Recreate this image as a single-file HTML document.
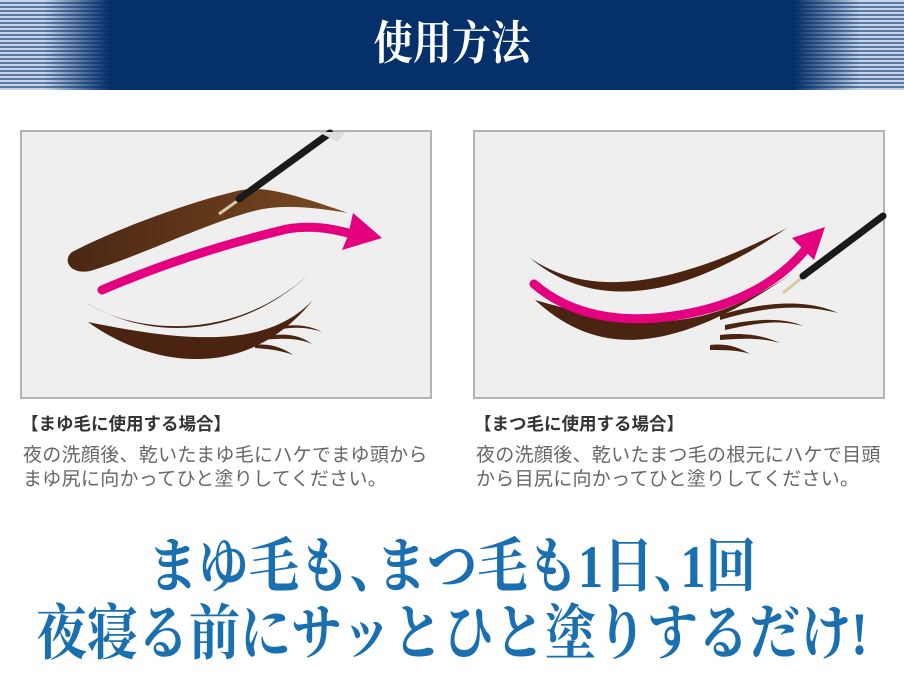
<!DOCTYPE html>
<html><head><meta charset="utf-8">
<style>
*{margin:0;padding:0;box-sizing:border-box}
body{width:904px;height:679px;background:#fff;position:relative;overflow:hidden;font-family:"Liberation Sans","Noto Sans CJK JP",sans-serif}
.hdr{position:absolute;left:0;top:0;width:904px;height:90px;background:#05306a}
.side{position:absolute;top:0;height:90px;width:110px;background:repeating-linear-gradient(180deg,#c9d5e6 0 2px,#5a7aa6 2px 4px)}
.side.l{left:0;-webkit-mask-image:linear-gradient(90deg,#000 40%,transparent);mask-image:linear-gradient(90deg,#000 40%,transparent)}
.side.r{right:0;-webkit-mask-image:linear-gradient(270deg,#000 40%,transparent);mask-image:linear-gradient(270deg,#000 40%,transparent)}
.title{position:absolute;left:0;width:904px;top:16px;text-align:center;color:#fff;font-family:"Liberation Serif","Noto Serif CJK SC",serif;font-weight:bold;font-size:46px;line-height:56px;transform:scaleX(0.85)}
.panel{position:absolute;top:130px;width:412px;height:269px;border:2px solid #b3b3b3;background:#efefef}
.h{position:absolute;font-size:17.5px;font-weight:bold;color:#333;line-height:22px;white-space:nowrap}
.b{position:absolute;font-size:19px;color:#666;line-height:24px;letter-spacing:0.3px;white-space:nowrap}
.big{position:absolute;left:-300px;width:1504px;display:flex;justify-content:center;color:#1a6fb0;font-family:"Liberation Serif","Noto Serif CJK SC",serif;font-weight:bold;white-space:nowrap;font-size:60px;line-height:66px}
.big span.c{letter-spacing:-28px}
</style></head><body>
<div class="hdr"><div class="side l"></div><div class="side r"></div><div class="title">使用方法</div></div>

<div class="panel" style="left:20px"></div>
<div class="panel" style="left:473px"></div>
<svg width="904" height="400" style="position:absolute;left:0;top:0">
 <defs>
  <linearGradient id="br" x1="0" x2="1"><stop offset="0" stop-color="#4a2612"/><stop offset="1" stop-color="#7a4a22"/></linearGradient>
 </defs>
 <path d="M72,252 C110,232 180,205 233,192 C255,186 275,187 348,213 C300,205 275,205 250,212 C200,226 140,256 90,271 C70,275 62,260 72,252 Z" fill="url(#br)"/>
 <path d="M85,302 C130,332 230,345 308,275 C240,338 150,342 85,302 Z" fill="#4a2410"/>
 <path d="M88,322 C140,360 240,390 313,300 C270,345 200,345 88,322 Z" fill="#4a2410"/>
 <path d="M265,330 C290,322 310,325 322,332 C305,326 285,326 265,334 Z M262,337 C285,332 300,335 312,344 C298,338 282,338 262,340 Z M255,345 C270,343 283,348 293,355 C280,350 268,349 255,348 Z" fill="#4a2410"/>
 <path d="M102,290 C160,265 220,245 287,229 C310,225 330,228 352,234" stroke="#e4007f" stroke-width="9" fill="none" stroke-linecap="round"/>
 <path d="M382,238 L353,213 L348,236 L342,250 Z" fill="#e4007f"/>
 <line x1="219" y1="214" x2="240" y2="199" stroke="#d9c9a0" stroke-width="3"/>
 <line x1="239" y1="199" x2="330" y2="133" stroke="#1a1a1a" stroke-width="7" stroke-linecap="round"/>
 <path d="M318,132 L345,132 L338,142 Z" fill="#ddd"/>
 <path d="M530,258 C570,285 640,305 787,228 C660,315 580,300 530,258 Z" fill="#4a2410"/>
 <path d="M535,300 C590,350 660,365 793,273 C700,335 640,330 535,300 Z" fill="#4a2410"/>
 <path d="M720,315 C770,300 810,300 838,313 C805,305 770,305 720,320 Z M725,325 C760,318 785,318 803,326 C780,320 760,322 725,330 Z M720,335 C745,332 765,336 780,343 C763,338 745,338 720,340 Z M710,345 C728,343 740,348 750,354 C738,350 726,350 710,350 Z" fill="#4a2410"/>
 <path d="M534,284 C570,315 620,325 680,315 C740,305 780,280 805,250" stroke="#e4007f" stroke-width="9" fill="none" stroke-linecap="round"/>
 <path d="M825,227 L792,238 L804,250 L814,260 Z" fill="#e4007f"/>
 <line x1="783" y1="293" x2="804" y2="276" stroke="#d9c9a0" stroke-width="3"/>
 <line x1="803" y1="276" x2="883" y2="216" stroke="#1a1a1a" stroke-width="7" stroke-linecap="round"/>
</svg>

<div class="h" style="left:21px;top:413px">【まゆ毛に使用する場合】</div>
<div class="b" style="left:23px;top:444px">夜の洗顔後、乾いたまゆ毛にハケでまゆ頭から<br>まゆ尻に向かってひと塗りしてください。</div>
<div class="h" style="left:474px;top:413px">【まつ毛に使用する場合】</div>
<div class="b" style="left:476px;top:444px">夜の洗顔後、乾いたまつ毛の根元にハケで目頭<br>から目尻に向かってひと塗りしてください。</div>

<div class="big" style="top:534px;transform:scaleX(0.84)">まゆ毛も<span class="c">、</span>まつ毛も1日<span class="c">、</span>1回</div>
<div class="big" style="top:601px;transform:scaleX(0.85)">夜寝る前にサッとひと塗りするだけ!</div>
</body></html>
